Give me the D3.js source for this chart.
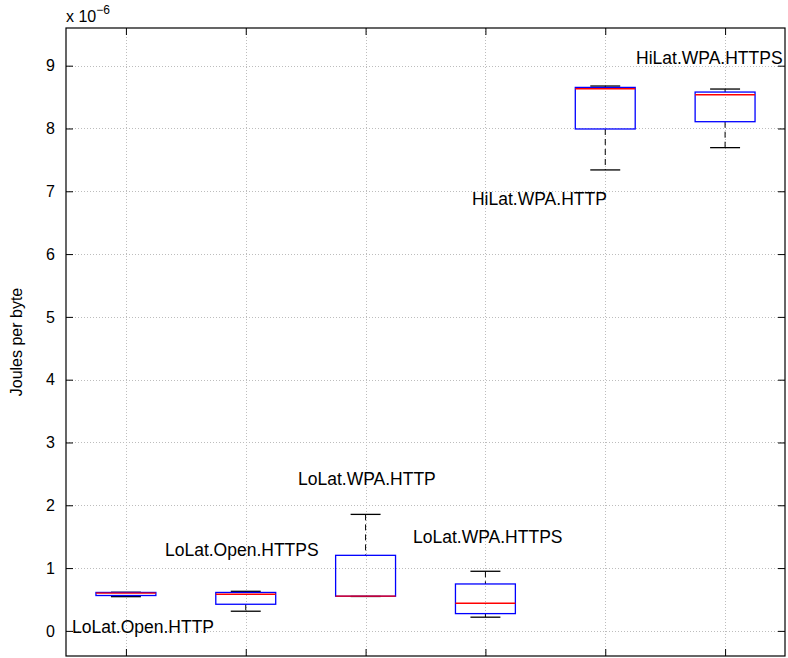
<!DOCTYPE html>
<html>
<head>
<meta charset="utf-8">
<script src="https://cdn.jsdelivr.net/npm/d3@7"></script>
<style>
  body { margin: 0; background: #fff; }
  svg { display: block; font-family: "Liberation Sans", Arial, sans-serif; }
</style>
</head>
<body>
<div id="chart"></div>
<script>
// Box plot statistics (units of 1e-6 J/byte)
const groups = [1, 2, 3, 4, 5, 6];
const upperWhisker = [0.615, 0.63, 1.855, 0.949, 8.676, 8.628];
const q3 = [0.612, 0.612, 1.203, 0.747, 8.654, 8.580];
const median = [0.600, 0.583, 0.552, 0.440, 8.633, 8.537];
const q1 = [0.563, 0.424, 0.552, 0.275, 7.992, 8.108];
const lowerWhisker = [0.545, 0.313, 0.548, 0.218, 7.340, 7.695];

// Text annotations placed in the axes
const labels = ['LoLat.Open.HTTP', 'LoLat.Open.HTTPS', 'LoLat.WPA.HTTP',
  'LoLat.WPA.HTTPS', 'HiLat.WPA.HTTP', 'HiLat.WPA.HTTPS'];
const labelX = [0.55, 1.326, 2.436, 3.396, 3.888, 5.257];
const labelY = [-0.03, 1.19, 2.32, 1.40, 6.78, 9.02];

const yTicks = [0, 1, 2, 3, 4, 5, 6, 7, 8, 9];

const W = 788, H = 658;
const margin = { top: 28, right: 3, bottom: 2, left: 66 };
const width = W - margin.left - margin.right,
  height = H - margin.top - margin.bottom;

const svg = d3.select('#chart').append('svg')
  .attr('width', W).attr('height', H);
const g = svg.append('g')
  .attr('transform', `translate(${margin.left},${margin.top})`);

const x = d3.scaleLinear().domain([0.5, 6.5]).range([0, width]);
const y = d3.scaleLinear().domain([-0.4, 9.6]).range([height, 0]);

// grid lines
const grid = g.append('g')
  .attr('stroke', '#bdbdbd').attr('stroke-dasharray', '1,2').attr('stroke-width', 1);
grid.selectAll('.gx').data(groups).join('line')
  .attr('x1', d => Math.round(x(d)) + 0.5).attr('x2', d => Math.round(x(d)) + 0.5)
  .attr('y1', 0).attr('y2', height);
grid.selectAll('.gy').data(yTicks).join('line')
  .attr('y1', d => Math.round(y(d)) + 0.5).attr('y2', d => Math.round(y(d)) + 0.5)
  .attr('x1', 0).attr('x2', width);

// axes (ticks inward, box on)
const tickLen = 7;
const axisLeft = g.append('g').call(d3.axisLeft(y).tickValues(yTicks).tickSize(-tickLen).tickPadding(tickLen + 4));
const axisRight = g.append('g').attr('transform', `translate(${width},0)`)
  .call(d3.axisRight(y).tickValues(yTicks).tickSize(-tickLen).tickFormat(''));
const axisBottom = g.append('g').attr('transform', `translate(0,${height})`)
  .call(d3.axisBottom(x).tickValues(groups).tickSize(-tickLen).tickFormat(''));
const axisTop = g.append('g')
  .call(d3.axisTop(x).tickValues(groups).tickSize(-tickLen).tickFormat(''));
[axisLeft, axisRight, axisBottom, axisTop].forEach(a => {
  a.select('.domain').remove();
  a.selectAll('line').attr('stroke', '#000');
});
axisLeft.selectAll('text').attr('font-size', 16).attr('fill', '#000')
  .attr('font-family', '"Liberation Sans", Arial, sans-serif');

g.append('rect').attr('x', 0).attr('y', 0).attr('width', width).attr('height', height)
  .attr('fill', 'none').attr('stroke', '#000').attr('stroke-width', 1.2);

// boxes
const boxHalf = 0.25, capHalf = 0.125;
const boxes = g.selectAll('.box').data(groups).join('g').attr('class', 'box');
boxes.append('line')
  .attr('x1', d => x(d)).attr('x2', d => x(d))
  .attr('y1', (d, i) => y(upperWhisker[i])).attr('y2', (d, i) => y(q3[i]))
  .attr('stroke', '#000').attr('stroke-dasharray', '6,4');
boxes.append('line')
  .attr('x1', d => x(d)).attr('x2', d => x(d))
  .attr('y1', (d, i) => y(q1[i])).attr('y2', (d, i) => y(lowerWhisker[i]))
  .attr('stroke', '#000').attr('stroke-dasharray', '6,4');
boxes.append('line')
  .attr('x1', d => x(d - capHalf)).attr('x2', d => x(d + capHalf))
  .attr('y1', (d, i) => y(upperWhisker[i])).attr('y2', (d, i) => y(upperWhisker[i]))
  .attr('stroke', '#000').attr('stroke-width', 1.3);
boxes.append('line')
  .attr('x1', d => x(d - capHalf)).attr('x2', d => x(d + capHalf))
  .attr('y1', (d, i) => y(lowerWhisker[i])).attr('y2', (d, i) => y(lowerWhisker[i]))
  .attr('stroke', '#000').attr('stroke-width', 1.3);
boxes.append('rect')
  .attr('x', d => x(d - boxHalf)).attr('width', x(1 + boxHalf) - x(1 - boxHalf))
  .attr('y', (d, i) => y(q3[i])).attr('height', (d, i) => y(q1[i]) - y(q3[i]))
  .attr('fill', 'none').attr('stroke', '#0000ff').attr('stroke-width', 1.3);
boxes.append('line')
  .attr('x1', d => x(d - boxHalf)).attr('x2', d => x(d + boxHalf))
  .attr('y1', (d, i) => y(median[i])).attr('y2', (d, i) => y(median[i]))
  .attr('stroke', '#ff0000').attr('stroke-width', 1.3);

// annotations
g.selectAll('.lab').data(labels).join('text')
  .attr('x', (d, i) => x(labelX[i])).attr('y', (d, i) => y(labelY[i]))
  .attr('font-size', 17.5).attr('fill', '#000').text(d => d);

// exponent label
const ex = svg.append('text').attr('x', margin.left).attr('y', 22)
  .attr('font-size', 16).attr('fill', '#000');
ex.append('tspan').text('x 10');
ex.append('tspan').attr('font-size', 12).attr('dy', -8).text('\u22126');

// y label
svg.append('text')
  .attr('transform', `translate(22,${margin.top + y(4.6)}) rotate(-90)`)
  .attr('text-anchor', 'middle').attr('font-size', 16).attr('fill', '#000')
  .text('Joules per byte');
</script>
</body>
</html>
